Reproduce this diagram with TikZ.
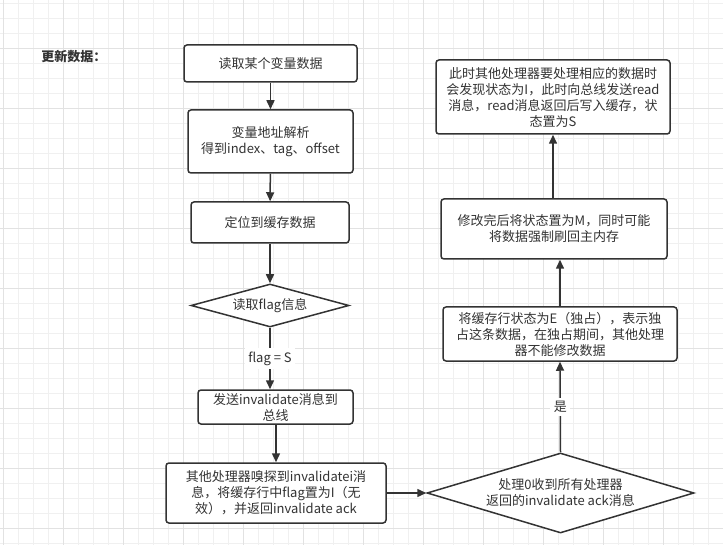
\documentclass[tikz,border=0pt]{standalone}
\usepackage{fontspec}
\setmainfont{Noto Sans CJK SC}
\usetikzlibrary{shapes.geometric,arrows.meta}
\definecolor{ink}{HTML}{333333}
\definecolor{gridminor}{HTML}{F0F0F0}
\definecolor{gridmajor}{HTML}{E2E2E2}

\begin{document}
\begin{tikzpicture}[x=1pt, y=-1pt,
  box/.style={draw=ink, line width=1.5pt, rounded corners=3pt, fill=white,
    align=center, inner sep=0pt, text=ink},
  choice/.style={draw=ink, diamond, line width=1.5pt, fill=white,
    align=center, inner sep=0pt, text=ink},
  flow/.style={draw=ink, line width=1.5pt, -{Triangle[length=9pt,width=8pt]}},
  font=\fontsize{13}{16}\selectfont]

  \useasboundingbox (0,0) rectangle (723,545);

  %% background grid
  \foreach \i in {3.3,18.3,...,723.3} \draw[gridminor, line width=0.8pt] (\i,0) -- (\i,545);
  \foreach \j in {3.3,18.3,...,545} \draw[gridminor, line width=0.8pt] (0,\j) -- (723,\j);
  \foreach \i in {3.3,63.3,...,723.3} \draw[gridmajor, line width=0.8pt] (\i,0) -- (\i,545);
  \foreach \j in {48.3,108.3,...,545} \draw[gridmajor, line width=0.8pt] (0,\j) -- (723,\j);

  \node[text=ink, font=\fontsize{13}{15}\selectfont\bfseries] (title) at (74,57) {更新数据：};

  %% left column
  \node[box, minimum width=173, minimum height=37] (read) at (270.5,63.5) {读取某个变量数据};
  \node[box, minimum width=165, minimum height=63] (parse) at (270.5,141.5) {变量地址解析\\得到index、tag、offset};
  \node[box, minimum width=158, minimum height=41] (locate) at (270,222.5) {定位到缓存数据};
  \node[choice, aspect=3.67, minimum width=158, minimum height=43] (flag) at (270,305.5) {读取flag信息};
  \node[box, minimum width=155, minimum height=34] (send) at (275.5,407) {发送invalidate消息到\\总线};
  \node[box, minimum width=220, minimum height=60] (snoop) at (276,493) {其他处理器嗅探到invalidatei消\\息，将缓存行中flag置为I（无\\效），并返回invalidate ack};

  %% right column
  \node[choice, aspect=3.34, minimum width=267, minimum height=80] (ack) at (560.5,493) {处理0收到所有处理器\\返回的invalidate ack消息};
  \node[box, minimum width=234, minimum height=54] (excl) at (560,334) {将缓存行状态为E（独占），表示独\\占这条数据，在独占期间，其他处理\\器不能修改数据};
  \node[box, minimum width=226, minimum height=60] (modify) at (554,229) {修改完后将状态置为M，同时可能\\将数据强制刷回主内存};
  \node[box, minimum width=234, minimum height=74] (other) at (553,97) {此时其他处理器要处理相应的数据时\\会发现状态为I，此时向总线发送read\\消息，read消息返回后写入缓存，状\\态置为S};

  \draw[flow] (read) -- (parse);
  \draw[flow] (parse) -- (locate);
  \draw[flow] (locate) -- (flag);
  \draw[flow] (flag.south) -- node[fill=white, text=ink]{flag = S} (flag.south |- send.north);
  \draw[flow] (send.south -| snoop.north) -- (snoop.north);
  \draw[flow] (snoop.east) -- (ack.west);
  \draw[flow] (ack.north) -- node[fill=white, text=ink]{是} (excl.south);
  \draw[flow] (excl.north) -- (excl.north |- modify.south); %% E -> M
  \draw[flow] (other.south |- modify.north) -- (other.south); %% M -> read

\end{tikzpicture}
\end{document}
